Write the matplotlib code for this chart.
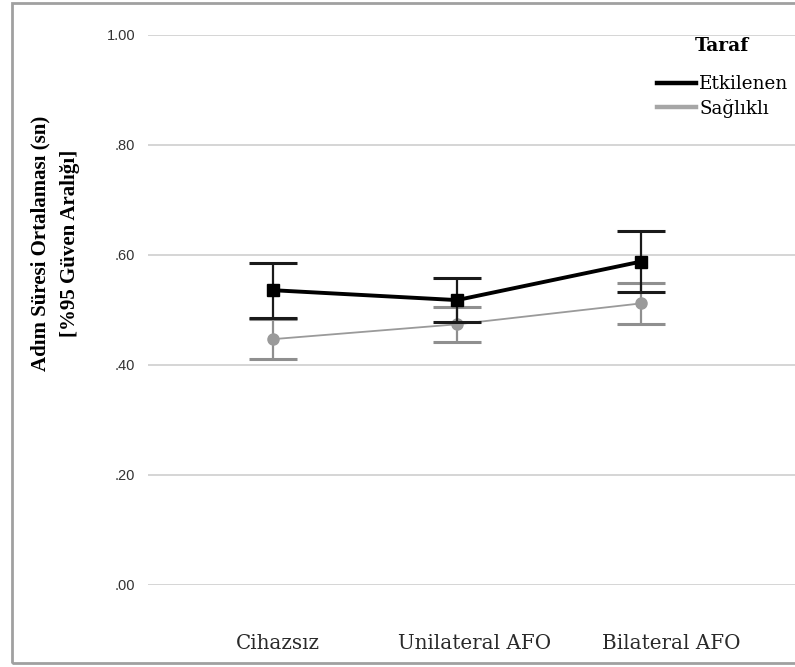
import matplotlib
matplotlib.use("Agg")
import matplotlib.pyplot as plt
from matplotlib.patches import Rectangle
from matplotlib.lines import Line2D
from matplotlib.transforms import ScaledTranslation
import numpy as np

# step duration means with 95% CI, per device condition
conditions = ["Cihazsız", "Unilateral AFO", "Bilateral AFO"]
affected_mean = [0.536, 0.518, 0.588]
affected_low = [0.486, 0.479, 0.532]
affected_high = [0.585, 0.559, 0.644]
healthy_mean = [0.447, 0.474, 0.512]
healthy_low = [0.411, 0.441, 0.475]
healthy_high = [0.484, 0.506, 0.550]
yticks = [0.0, 0.2, 0.4, 0.6, 0.8, 1.0]
ytick_labels = [".00", ".20", ".40", ".60", ".80", "1.00"]

W, H = 795, 667
fig = plt.figure(figsize=(W / 100, H / 100), dpi=100)
ax = fig.add_axes([148 / W, (H - 585) / H, (W - 148) / W, 550 / H])

x = np.arange(len(conditions))

def draw_series(mean, low, high, color, cap_color, lw, marker, ms, z):
    mean = np.array(mean)
    err = [mean - np.array(low), np.array(high) - mean]
    ax.errorbar(x, mean, yerr=err, fmt="none", ecolor=cap_color, elinewidth=1.6,
                capsize=17, capthick=2.2, zorder=z)
    ax.plot(x, mean, color=color, lw=lw, marker=marker, ms=ms, zorder=z + 1)

draw_series(healthy_mean, healthy_low, healthy_high, "#9a9a9a", "#8f8f8f", 1.3, "o", 8, 3)
draw_series(affected_mean, affected_low, affected_high, "black", "#1a1a1a", 2.8, "s", 8, 5)

ax.set_xlim(-0.679, 2.837)
ax.set_ylim(0, 1)
ax.set_yticks(yticks)
ax.set_yticklabels(ytick_labels, family="Liberation Sans", fontsize=10.5, color="#333333")
ax.set_xticks(x)
ax.set_xticklabels(conditions, family="DejaVu Serif", fontsize=14.3, color="#2a2a2a")
ax.tick_params(axis="y", length=0, pad=9)
ax.tick_params(axis="x", length=0, pad=35)
# category labels sit a little right of their points
for lbl, dx in zip(ax.get_xticklabels(), [5, 18, 30]):
    lbl.set_transform(lbl.get_transform() + ScaledTranslation(dx / 100, 0, fig.dpi_scale_trans))
ax.grid(axis="y", color="#d2d2d2", lw=1.3)
ax.set_axisbelow(True)
for s in ax.spines.values():
    s.set_visible(False)

fig.text(55 / W, 1 - 243 / H, "Adım Süresi Ortalaması (sn)\n[%95 Güven Aralığı]",
         rotation=90, ha="center", va="center", family="Liberation Serif",
         fontweight="bold", fontsize=15, linespacing=1.6)

handles = [Line2D([], [], color="black", lw=3.2), Line2D([], [], color="#a6a6a6", lw=3.2)]
leg = fig.legend(handles, ["Etkilenen", "Sağlıklı"], frameon=False,
                 loc="upper left", bbox_to_anchor=(657 / W, 1 - 75 / H),
                 handlelength=2.1, handletextpad=0.2, labelspacing=0.3,
                 borderpad=0, borderaxespad=0,
                 prop={"family": "DejaVu Serif", "size": 13.2})
fig.text(722 / W, 1 - 46 / H, "Taraf", ha="center", va="center",
         family="DejaVu Serif", fontweight="bold", fontsize=13.5)

# outer chart frame
fig.patches.append(Rectangle((12 / W, (H - 663) / H), 1.2, 660 / H, transform=fig.transFigure,
                             fill=False, edgecolor="#a0a0a0", lw=2))

fig.savefig("out.png", dpi=100)
